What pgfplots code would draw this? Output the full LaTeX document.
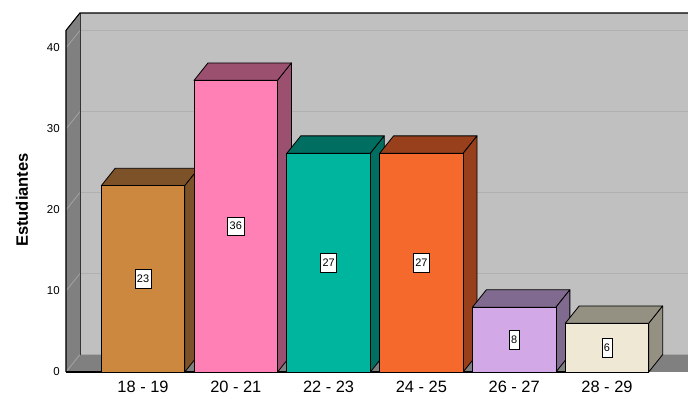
\documentclass[border=0pt]{standalone}
\usepackage{fontspec}
\setmainfont{Liberation Sans}
\usepackage{pgfplots}
\usepackage{pgfplotstable}
\pgfplotsset{compat=1.18}
\definecolor{wallD}{HTML}{808080}
\definecolor{wallB}{HTML}{C0C0C0}
\definecolor{gridB}{HTML}{B0B0B0}
\definecolor{gridL}{HTML}{A4A4A4}
\definecolor{fA}{HTML}{CD8840}\definecolor{dA}{HTML}{7E5228}
\definecolor{fB}{HTML}{FF80B5}\definecolor{dB}{HTML}{9C5070}
\definecolor{fC}{HTML}{00B59E}\definecolor{dC}{HTML}{006E60}
\definecolor{fD}{HTML}{F5692D}\definecolor{dD}{HTML}{98401C}
\definecolor{fE}{HTML}{D2A8E6}\definecolor{dE}{HTML}{806A90}
\definecolor{fF}{HTML}{EEE8D5}\definecolor{dF}{HTML}{949182}
\pgfplotstableread{
x v
0 23
1 36
2 27
3 27
4 8
5 6
}\data
\begin{document}
\begin{tikzpicture}
\begin{axis}[name=ax, scale only axis, width=466.5pt, height=269.25pt,
  xmin=-0.83, xmax=5.873, ymin=0, ymax=44.32, clip=false,
  axis line style={draw=none}, tick style={draw=none}, major tick length=0pt,
  ytick={0,10,20,30,40}, xtick={0,1,2,3,4,5},
  xticklabels={18 - 19, 20 - 21, 22 - 23, 24 - 25, 26 - 27, 28 - 29},
  /pgf/number format/assume math mode=true,
  yticklabel style={font=\fontsize{8.6pt}{10pt}\selectfont, anchor=east, xshift=-1.2pt},
  xticklabel style={font=\fontsize{12.3pt}{14pt}\selectfont, anchor=center, yshift=-11.5pt},
  ylabel={\textbf{Estudiantes}},
  every axis y label/.style={at={(axis description cs:-0.0707,0.479)}, rotate=90, anchor=center, font=\fontsize{12.4pt}{14pt}\selectfont},
]
% walls
\addplot[fill=wallB, draw=none] coordinates {(-0.68,2.15) (6.2,2.15) (6.2,44.32) (-0.68,44.32)} -- cycle;
\addplot[fill=wallD, draw=none] coordinates {(-0.83,0) (6.2,0) (6.2,2.15) (-0.68,2.15)} -- cycle;
\addplot[fill=wallD, draw=none] coordinates {(-0.83,0) (-0.68,2.15) (-0.68,44.32) (-0.83,42.17)} -- cycle;
% grid lines on back wall
\addplot[gridB, line width=0.9pt] coordinates {(-0.68,12.15) (6.2,12.15)};
\addplot[gridB, line width=0.9pt] coordinates {(-0.68,22.15) (6.2,22.15)};
\addplot[gridB, line width=0.9pt] coordinates {(-0.68,32.15) (6.2,32.15)};
\addplot[gridB, line width=0.9pt] coordinates {(-0.68,42.15) (6.2,42.15)};
% grid lines on left wall
\addplot[gridL, line width=0.6pt] coordinates {(-0.83,0) (-0.68,2.15)};
\addplot[gridL, line width=0.6pt] coordinates {(-0.83,10) (-0.68,12.15)};
\addplot[gridL, line width=0.6pt] coordinates {(-0.83,20) (-0.68,22.15)};
\addplot[gridL, line width=0.6pt] coordinates {(-0.83,30) (-0.68,32.15)};
\addplot[gridL, line width=0.6pt] coordinates {(-0.83,40) (-0.68,42.15)};
% wall edges
\addplot[black!80, line width=0.6pt] coordinates {(-0.68,2.15) (-0.68,44.32)};
\addplot[black, line width=0.8pt] coordinates {(-0.83,0) (-0.83,42.17) (-0.68,44.32) (6.2,44.32)};
\addplot[black, line width=1.2pt] coordinates {(-0.83,0) (5.45,0)};
% bar tops and sides
\addplot[fill=dA, draw=black, line width=0.6pt, line join=round] coordinates {(-0.45,23) (-0.30,25.15) (0.60,25.15) (0.45,23)} -- cycle;
\addplot[fill=dA, draw=black, line width=0.6pt, line join=round] coordinates {(0.45,0) (0.60,2.15) (0.60,25.15) (0.45,23)} -- cycle;
\addplot[fill=dB, draw=black, line width=0.6pt, line join=round] coordinates {(0.55,36) (0.70,38.15) (1.60,38.15) (1.45,36)} -- cycle;
\addplot[fill=dB, draw=black, line width=0.6pt, line join=round] coordinates {(1.45,0) (1.60,2.15) (1.60,38.15) (1.45,36)} -- cycle;
\addplot[fill=dC, draw=black, line width=0.6pt, line join=round] coordinates {(1.55,27) (1.70,29.15) (2.60,29.15) (2.45,27)} -- cycle;
\addplot[fill=dC, draw=black, line width=0.6pt, line join=round] coordinates {(2.45,0) (2.60,2.15) (2.60,29.15) (2.45,27)} -- cycle;
\addplot[fill=dD, draw=black, line width=0.6pt, line join=round] coordinates {(2.55,27) (2.70,29.15) (3.60,29.15) (3.45,27)} -- cycle;
\addplot[fill=dD, draw=black, line width=0.6pt, line join=round] coordinates {(3.45,0) (3.60,2.15) (3.60,29.15) (3.45,27)} -- cycle;
\addplot[fill=dE, draw=black, line width=0.6pt, line join=round] coordinates {(3.55,8) (3.70,10.15) (4.60,10.15) (4.45,8)} -- cycle;
\addplot[fill=dE, draw=black, line width=0.6pt, line join=round] coordinates {(4.45,0) (4.60,2.15) (4.60,10.15) (4.45,8)} -- cycle;
\addplot[fill=dF, draw=black, line width=0.6pt, line join=round] coordinates {(4.55,6) (4.70,8.15) (5.60,8.15) (5.45,6)} -- cycle;
\addplot[fill=dF, draw=black, line width=0.6pt, line join=round] coordinates {(5.45,0) (5.60,2.15) (5.60,8.15) (5.45,6)} -- cycle;
% bar fronts
\addplot[fill=fA, draw=black, line width=0.6pt, line join=round] coordinates {(-0.45,0) (0.45,0) (0.45,23) (-0.45,23)} -- cycle;
\addplot[fill=fB, draw=black, line width=0.6pt, line join=round] coordinates {(0.55,0) (1.45,0) (1.45,36) (0.55,36)} -- cycle;
\addplot[fill=fC, draw=black, line width=0.6pt, line join=round] coordinates {(1.55,0) (2.45,0) (2.45,27) (1.55,27)} -- cycle;
\addplot[fill=fD, draw=black, line width=0.6pt, line join=round] coordinates {(2.55,0) (3.45,0) (3.45,27) (2.55,27)} -- cycle;
\addplot[fill=fE, draw=black, line width=0.6pt, line join=round] coordinates {(3.55,0) (4.45,0) (4.45,8) (3.55,8)} -- cycle;
\addplot[fill=fF, draw=black, line width=0.6pt, line join=round] coordinates {(4.55,0) (5.45,0) (5.45,6) (4.55,6)} -- cycle;
% value labels
\addplot[draw=none, mark=none, nodes near coords, point meta=explicit symbolic,
  every node near coord/.style={anchor=center, draw=black, line width=0.5pt, fill=white, font=\fontsize{8.2pt}{9pt}\selectfont, inner xsep=1.5pt, inner ysep=1pt, minimum height=14pt}]
  table[x=x, y expr=\thisrow{v}/2, meta=v] {\data};
\end{axis}
\pgfresetboundingbox
\path ([xshift=-49.5pt,yshift=-20.25pt]ax.south west) rectangle ([yshift=9.75pt]ax.north east);
\end{tikzpicture}
\end{document}
